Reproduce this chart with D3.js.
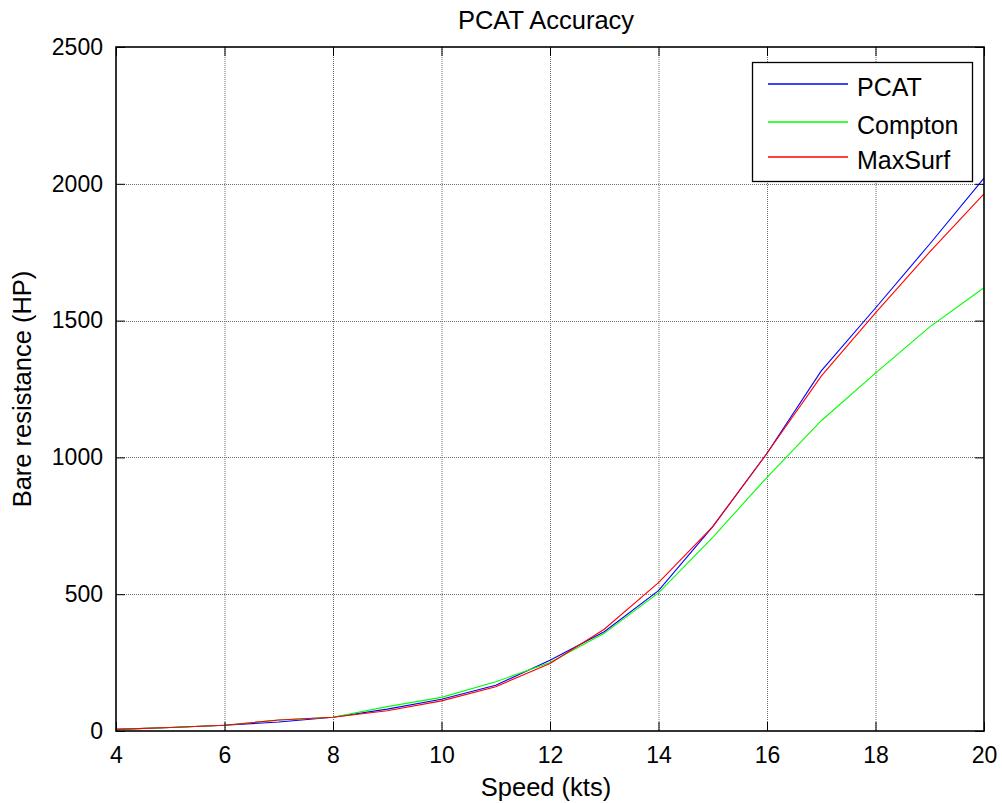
<!DOCTYPE html>
<html>
<head>
<meta charset="utf-8">
<script src="https://cdn.jsdelivr.net/npm/d3@7"></script>
<style>
  html, body { margin: 0; padding: 0; background: #fff; }
  svg { display: block; font-family: "Liberation Sans", Arial, sans-serif; }
</style>
</head>
<body>
<svg id="chart" width="1002" height="803"></svg>
<script>
const speeds = [4, 5, 6, 7, 8, 9, 10, 11, 12, 13, 14, 15, 16, 17, 18, 19, 20];
const pcat = [6, 13, 21, 33, 50, 80, 116, 167, 259, 363, 513, 747, 1015, 1316, 1546, 1780, 2021];
const compton = [6, 13, 21, 40, 50, 89, 123, 180, 250, 357, 505, 708, 927, 1134, 1308, 1477, 1620];
const maxsurf = [6, 13, 21, 40, 50, 74, 110, 162, 247, 372, 542, 747, 1015, 1297, 1528, 1751, 1963];
const seriesNames = ["PCAT", "Compton", "MaxSurf"];
const seriesColors = ["#0000ff", "#00ff00", "#ff0000"];
const xTicks = [4, 6, 8, 10, 12, 14, 16, 18, 20];
const yTicks = [0, 500, 1000, 1500, 2000, 2500];
const titleText = "PCAT Accuracy";
const xLabel = "Speed (kts)";
const yLabel = "Bare resistance (HP)";

const svg = d3.select("#chart");
const L = 116, R = 984, T = 47, B = 731;
const x = d3.scaleLinear().domain([4, 20]).range([L, R]);
const y = d3.scaleLinear().domain([0, 2500]).range([B, T]);

// grid
const grid = svg.append("g");
grid.selectAll("line.vx").data(xTicks.slice(1, -1)).enter().append("line")
  .attr("x1", d => x(d) + 0.5).attr("x2", d => x(d) + 0.5)
  .attr("y1", T).attr("y2", B)
  .attr("stroke", "#6e6e6e").attr("stroke-width", 1).attr("stroke-dasharray", "1,1");
grid.selectAll("line.hy").data(yTicks.slice(1, -1)).enter().append("line")
  .attr("y1", d => Math.round(y(d)) + 0.5).attr("y2", d => Math.round(y(d)) + 0.5)
  .attr("x1", L).attr("x2", R)
  .attr("stroke", "#6e6e6e").attr("stroke-width", 1).attr("stroke-dasharray", "1,1");

// lines
const seriesData = [pcat, compton, maxsurf];
const line = d3.line().x((d, i) => x(speeds[i])).y(d => y(d));
seriesData.forEach((s, k) => {
  svg.append("path").datum(s).attr("d", line)
    .attr("fill", "none").attr("stroke", seriesColors[k]).attr("stroke-width", 1.1);
});

// axes
const tickLen = 9;
const xAxisB = d3.axisBottom(x).tickValues(xTicks).tickSize(-tickLen).tickPadding(16).tickFormat(d3.format("d"));
const xAxisT = d3.axisTop(x).tickValues(xTicks).tickSize(-tickLen).tickFormat("");
const yAxisL = d3.axisLeft(y).tickValues(yTicks).tickSize(-tickLen).tickPadding(13).tickFormat(d3.format("d"));
const yAxisR = d3.axisRight(y).tickValues(yTicks).tickSize(-tickLen).tickFormat("");

function styleAxis(g) {
  g.select(".domain").remove();
  g.selectAll(".tick line").attr("stroke", "#000").attr("stroke-width", 1);
  g.selectAll("text").attr("fill", "#000").attr("font-size", "23px")
    .attr("font-family", "'Liberation Sans', Arial, sans-serif");
}
svg.append("g").attr("transform", `translate(0,${B})`).call(xAxisB).call(styleAxis)
  .selectAll("text").attr("dy", "0.71em");
svg.append("g").attr("transform", `translate(0,${T})`).call(xAxisT).call(styleAxis);
svg.append("g").attr("transform", `translate(${L},0)`).call(yAxisL).call(styleAxis);
svg.append("g").attr("transform", `translate(${R},0)`).call(yAxisR).call(styleAxis);

// frame
svg.append("rect").attr("x", L).attr("y", T).attr("width", R - L).attr("height", B - T)
  .attr("fill", "none").attr("stroke", "#000").attr("stroke-width", 1.6);

// title & labels
const cx = (L + R) / 2 - 4;
svg.append("text").attr("x", cx).attr("y", 29).attr("text-anchor", "middle")
  .attr("font-size", "25.5px").text(titleText);
svg.append("text").attr("x", cx).attr("y", 796).attr("text-anchor", "middle")
  .attr("font-size", "25.5px").text(xLabel);
svg.append("text").attr("transform", `translate(31,${(T + B) / 2}) rotate(-90)`)
  .attr("text-anchor", "middle").attr("font-size", "25.5px").text(yLabel);

// legend
const lg = svg.append("g");
lg.append("rect").attr("x", 752.5).attr("y", 62.5).attr("width", 220).attr("height", 119)
  .attr("fill", "#fff").attr("stroke", "#000").attr("stroke-width", 1.3);
const rowsY = [84, 122, 157];
seriesNames.forEach((n, k) => {
  lg.append("line").attr("x1", 768).attr("x2", 848).attr("y1", rowsY[k]).attr("y2", rowsY[k])
    .attr("stroke", seriesColors[k]).attr("stroke-width", 1.6);
  lg.append("text").attr("x", 857).attr("y", rowsY[k] + 11.5).attr("font-size", "25px").text(n);
});
</script>
</body>
</html>
